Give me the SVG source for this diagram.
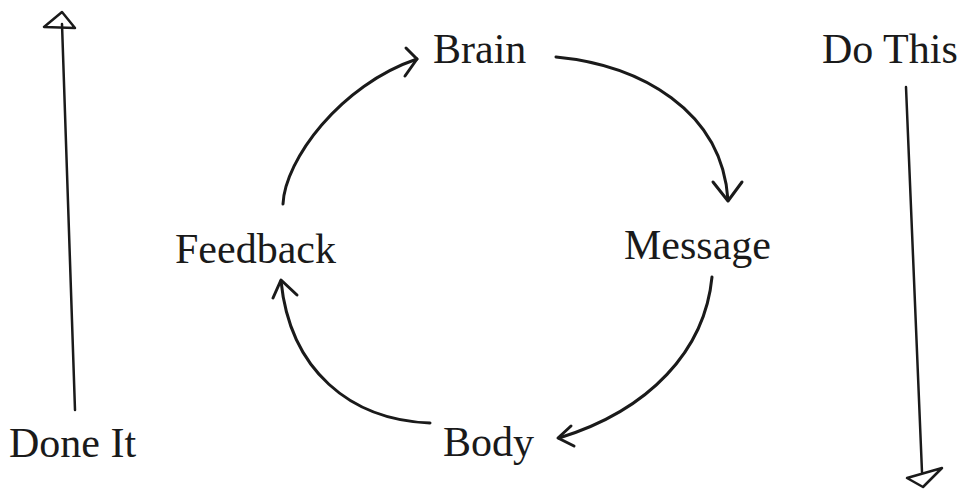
<svg xmlns="http://www.w3.org/2000/svg" width="965" height="493" viewBox="0 0 965 493">
<style>
  .lbl { font-family: "Liberation Serif", "Times New Roman", serif; font-size: 42px; fill: #1a1a1a; }
  .ln { fill: none; stroke: #1a1a1a; stroke-width: 3; stroke-linecap: round; stroke-linejoin: round; }
  .thin { fill: none; stroke: #1a1a1a; stroke-width: 2.5; stroke-linecap: round; stroke-linejoin: round; }
</style>
<rect width="965" height="493" fill="#ffffff"/>
<g id="brain"><text class="lbl" x="433" y="63">Brain</text></g>
<g id="message"><text class="lbl" x="624" y="259">Message</text></g>
<g id="body"><text class="lbl" x="443" y="456">Body</text></g>
<g id="feedback"><text class="lbl" x="175" y="263">Feedback</text></g>
<g id="done-it"><text class="lbl" x="9" y="457">Done It</text></g>
<g id="do-this"><text class="lbl" x="822" y="63">Do This</text></g>
<g id="connectors">
  <path class="ln" d="M283,204 C285,160 340,85 417,59"/>
  <polyline class="ln" points="406,48 417,59 405,76"/>
  <path class="ln" d="M556,57 C640,65 722,110 728,200"/>
  <polyline class="ln" points="713,182 728,201 742,182"/>
  <path class="ln" d="M712,277 C705,350 650,410 559,438"/>
  <polyline class="ln" points="571,426 558,438 574,446"/>
  <path class="ln" d="M430,423 C350,420 290,370 281,281"/>
  <polyline class="ln" points="273,298 281,280 297,295"/>
  <path class="thin" d="M75,410 L62,24"/>
  <path class="thin" d="M62,12 L44,27 L75,28 Z"/>
  <path class="thin" d="M906,87 L922,472"/>
  <path class="thin" d="M907,478 L942,468 L923,487 Z"/>
</g>
</svg>
